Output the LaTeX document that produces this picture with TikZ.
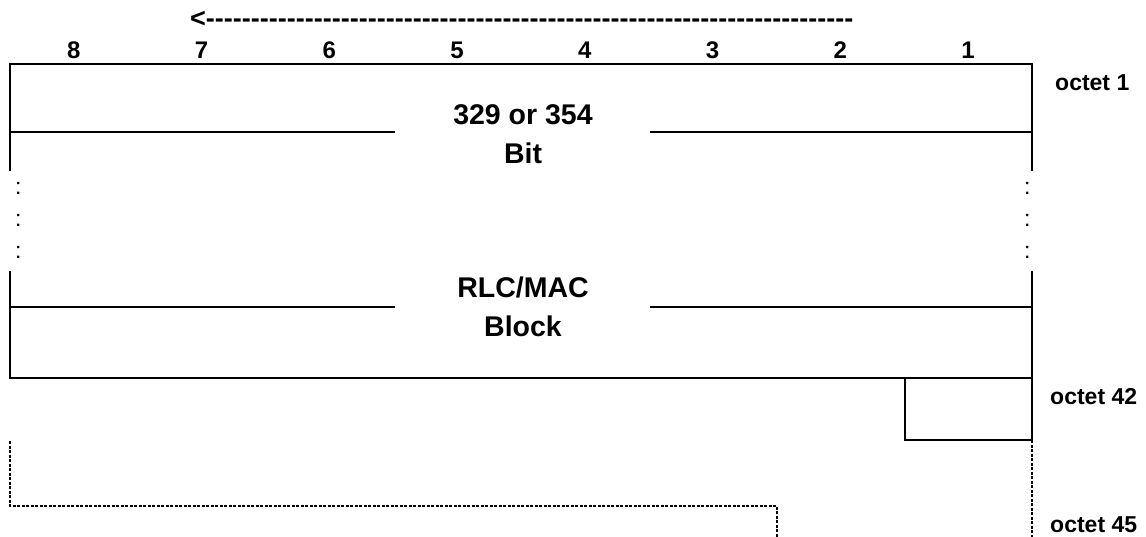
\documentclass[tikz,border=0pt]{standalone}
\usepackage{fontspec}
\setmainfont{Liberation Sans}
\newcommand\hyrun[1]{\foreach \k in {1,...,#1}{-\kern0pt}}
\begin{document}
\begin{tikzpicture}[x=1pt,y=-1pt,
  collbl/.style={inner sep=0pt,font=\bfseries\fontsize{24}{28}\selectfont},
  octlbl/.style={inner sep=0pt,anchor=west,font=\bfseries\fontsize{23}{28}\selectfont},
  ctrtxt/.style={inner sep=0pt,align=center,font=\bfseries\fontsize{28.5}{39}\selectfont},
  arrtxt/.style={inner sep=0pt,anchor=west,font=\bfseries\fontsize{27}{30}\selectfont},
  colonmark/.style={inner sep=0pt,font=\fontsize{23}{23}\selectfont},
  boxline/.style={line width=2.2pt},
  sepline/.style={line width=1.8pt},
  dotline/.style={line width=2.5pt,dash pattern=on 3pt off 1.5pt}]
\useasboundingbox (0,0) rectangle (1146,537);
% coordinates
\coordinate (tl) at (10,64);
\coordinate (tr) at (1032,64);
\coordinate (lu) at (10,171);
\coordinate (ru) at (1032,171);
\coordinate (ll) at (10,271);
\coordinate (rl) at (1032,271);
\coordinate (bl) at (10,378);
\coordinate (br) at (1032,378);
\coordinate (sbl) at (905,378);
\coordinate (sbb) at (905,440);
\coordinate (sbr) at (1032,440);
\coordinate (a1) at (10,132);
\coordinate (a2) at (395,132);
\coordinate (a3) at (650,132);
\coordinate (a4) at (1032,132);
\coordinate (b1) at (10,307);
\coordinate (b2) at (395,307);
\coordinate (b3) at (650,307);
\coordinate (b4) at (1032,307);
\coordinate (rd) at (1032,537);
\coordinate (d1) at (10,441);
\coordinate (d2) at (10,506);
\coordinate (d3) at (777,506);
\coordinate (d4) at (777,537);
% solid frame
\draw[boxline] (lu) -- (tl) -- (tr) -- (ru);
\draw[boxline] (ll) -- (bl) -- (br);
\draw[boxline] (rl) -- (sbr);
\draw[sepline] (a1) -- (a2);
\draw[sepline] (a3) -- (a4);
\draw[sepline] (b1) -- (b2);
\draw[sepline] (b3) -- (b4);
\draw[sepline] (sbl) -- (sbb) -- (sbr);
% dotted
\draw[dotline] (sbr) -- (rd);
\draw[dotline] (d1) -- (d2) -- (d3) -- (d4);
% arrow text
\node[arrtxt] (arr) at (190,19) {<\kern0pt\hyrun{72}};
% column numbers
\node[collbl] (c8) at (73.9,50) {8};
\node[collbl] (c7) at (201.6,50) {7};
\node[collbl] (c6) at (329.4,50) {6};
\node[collbl] (c5) at (457.1,50) {5};
\node[collbl] (c4) at (584.9,50) {4};
\node[collbl] (c3) at (712.6,50) {3};
\node[collbl] (c2) at (840.4,50) {2};
\node[collbl] (c1) at (968.1,50) {1};
% octet labels
\node[octlbl] (o1) at (1055,83) {octet 1};
\node[octlbl] (o42) at (1050,397) {octet 42};
\node[octlbl] (o45) at (1050,525) {octet 45};
% centre texts
\node[ctrtxt] (t1) at (523,134) {329 or 354\\Bit};
\node[ctrtxt] (t2) at (523,307) {RLC/MAC\\Block};
% colons
\node[colonmark] (cl1) at (18.3,188.3) {:};
\node[colonmark] (cl2) at (18.3,220.7) {:};
\node[colonmark] (cl3) at (18.3,252.7) {:};
\node[colonmark] (cr1) at (1027.3,188.3) {:};
\node[colonmark] (cr2) at (1027.3,220.7) {:};
\node[colonmark] (cr3) at (1027.3,252.7) {:};
\end{tikzpicture}
\end{document}
